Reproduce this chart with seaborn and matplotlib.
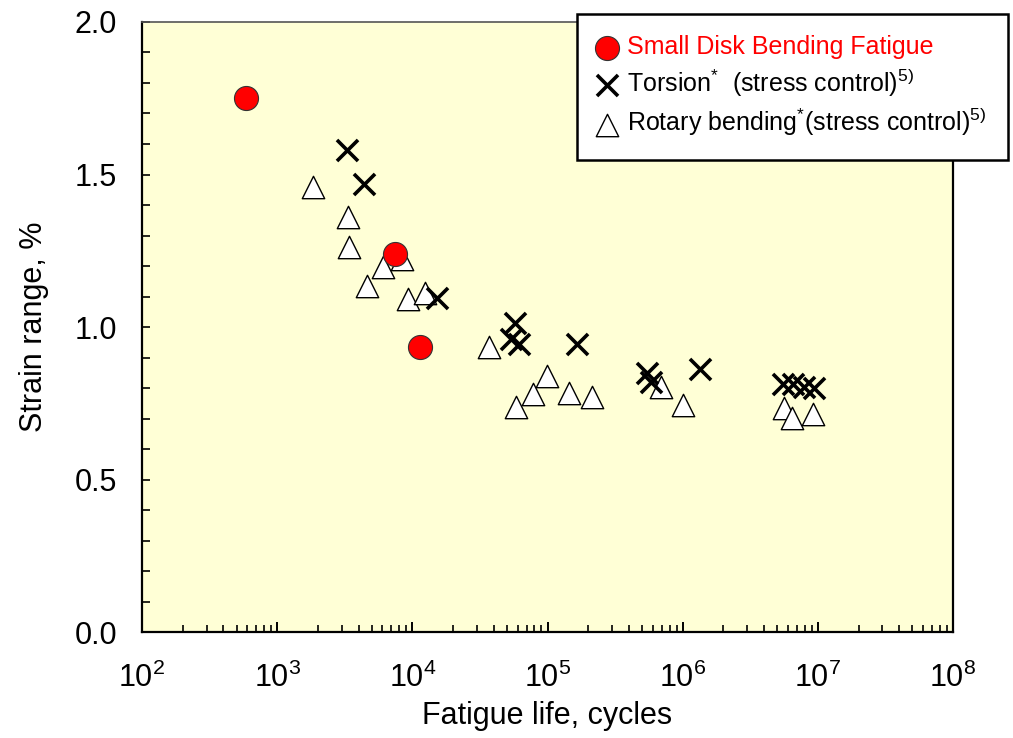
import numpy as np
import pandas as pd
import matplotlib
matplotlib.use("Agg")
import matplotlib.pyplot as plt
from matplotlib.ticker import LogLocator, MultipleLocator, FixedLocator, FuncFormatter, NullFormatter
import seaborn as sns

# Fatigue data: cycles to failure and strain range (%)
disk_cycles = [590, 7480, 11300]
disk_strain = [1.751, 1.239, 0.934]

torsion_cycles = [3300, 4400, 15100, 57000, 54000, 62000, 164000,
                  541000, 580000, 1.34e6, 5.5e6, 6.5e6, 7.9e6, 9.3e6]
torsion_strain = [1.580, 1.469, 1.095, 1.013, 0.961, 0.944, 0.944,
                  0.849, 0.820, 0.862, 0.813, 0.813, 0.803, 0.800]

rotary_cycles = [1850, 3360, 3410, 6100, 8430, 4640, 9330, 12500,
                 37200, 58900, 78700, 98400, 145000, 212000, 687000, 1.0e6,
                 5.6e6, 6.4e6, 9.2e6]
rotary_strain = [1.459, 1.361, 1.262, 1.197, 1.223, 1.134, 1.092, 1.111,
                 0.934, 0.738, 0.780, 0.839, 0.784, 0.770, 0.803, 0.744,
                 0.734, 0.702, 0.715]

x_decades = [2, 3, 4, 5, 6, 7, 8]
y_major = [0.0, 0.5, 1.0, 1.5, 2.0]

label_disk = "Small Disk Bending Fatigue"
label_torsion = r"Torsion$\mathregular{^{*}}$  (stress control)$\mathregular{^{5)}}$"
label_rotary = r"Rotary bending$\mathregular{^{*}}$(stress control)$\mathregular{^{5)}}$"

sns.set_theme(style="white")
plt.rcParams["font.family"] = ["Liberation Sans", "DejaVu Sans"]
plt.rcParams["mathtext.fontset"] = "custom"
plt.rcParams["mathtext.rm"] = "Liberation Sans"
plt.rcParams["mathtext.it"] = "Liberation Sans:italic"
plt.rcParams["mathtext.bf"] = "Liberation Sans:bold"
for key in ["text.color", "axes.labelcolor", "xtick.color", "ytick.color"]:
    plt.rcParams[key] = "black"

df_disk = pd.DataFrame({"cycles": disk_cycles, "strain": disk_strain})
df_tor = pd.DataFrame({"cycles": torsion_cycles, "strain": torsion_strain})
df_rot = pd.DataFrame({"cycles": rotary_cycles, "strain": rotary_strain})

fig = plt.figure(figsize=(10.13, 7.38), dpi=100)
ax = fig.add_axes([0.1402, 0.1436, 0.9408 - 0.1402, 0.9702 - 0.1436])
ax.set_facecolor("#FFFFD6")

sns.scatterplot(data=df_rot, x="cycles", y="strain", ax=ax, marker="^", s=260,
                color="white", edgecolor="black", linewidth=1.0, label=label_rotary,
                zorder=3)
sns.scatterplot(data=df_tor, x="cycles", y="strain", ax=ax, marker="x", s=230,
                color="black", linewidth=2.6, label=label_torsion, zorder=4)
sns.scatterplot(data=df_disk, x="cycles", y="strain", ax=ax, marker="o", s=300,
                color="#FF0000", edgecolor="#333333", linewidth=0.8, label=label_disk,
                zorder=5)

ax.set_xscale("log")
ax.set_xlim(10.0 ** x_decades[0], 10.0 ** x_decades[-1])
ax.set_ylim(y_major[0], y_major[-1])

ax.xaxis.set_major_locator(FixedLocator([10.0 ** d for d in x_decades]))
ax.xaxis.set_major_formatter(FuncFormatter(
    lambda v, p: r"$\mathregular{10^{%d}}$" % int(round(np.log10(v)))))
ax.xaxis.set_minor_locator(LogLocator(base=10, subs=np.arange(2, 10), numticks=20))
ax.xaxis.set_minor_formatter(NullFormatter())
ax.yaxis.set_major_locator(FixedLocator(y_major))
ax.yaxis.set_major_formatter(FuncFormatter(lambda v, p: f"{v:.1f}"))
ax.yaxis.set_minor_locator(MultipleLocator(0.1))

ax.tick_params(axis="both", which="both", direction="in", color="black",
               bottom=True, left=True, top=False, right=False)
ax.tick_params(axis="x", which="major", length=7, width=1.4, labelsize=22, pad=22)
ax.tick_params(axis="x", which="minor", length=5, width=1.2)
ax.tick_params(axis="y", which="major", length=6, width=1.2, labelsize=22, pad=18)
ax.tick_params(axis="y", which="minor", length=6, width=1.2)

for side in ["left", "bottom", "right"]:
    ax.spines[side].set_color("black")
    ax.spines[side].set_linewidth(1.6)
ax.spines["top"].set_color("#555555")
ax.spines["top"].set_linewidth(1.2)

ax.set_xlabel("Fatigue life, cycles", fontsize=22, labelpad=5)
ax.set_ylabel("Strain range, %", fontsize=22, labelpad=18)

handles, labels = ax.get_legend_handles_labels()
order = [labels.index(label_disk), labels.index(label_torsion), labels.index(label_rotary)]
leg = ax.legend([handles[i] for i in order], [labels[i] for i in order],
                loc="upper right", bbox_to_anchor=(0.995, 0.981),
                bbox_transform=fig.transFigure, borderaxespad=0,
                fontsize=18, frameon=True, fancybox=False, framealpha=1,
                edgecolor="black", facecolor="white", handletextpad=0.45,
                handlelength=0.72, labelspacing=0.3, borderpad=0.85, markerscale=1.0)
leg.get_frame().set_linewidth(1.8)
leg.set_zorder(10)
for txt in leg.get_texts():
    if txt.get_text() == label_disk:
        txt.set_color("#FF0000")

fig.savefig("out.png", dpi=100)
